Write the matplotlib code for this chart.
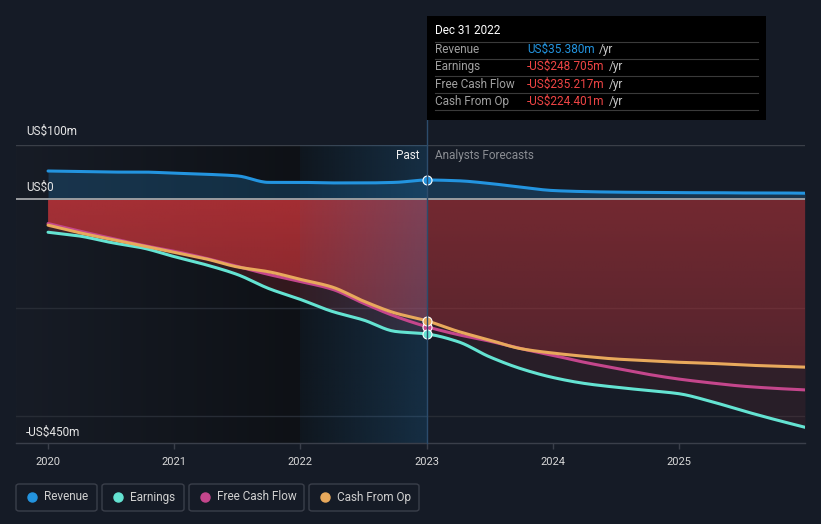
import numpy as np
import matplotlib
matplotlib.use("Agg")
import matplotlib.pyplot as plt
from matplotlib.patches import FancyBboxPatch, Rectangle
from matplotlib.lines import Line2D

plt.rcParams['font.family'] = ['Roboto', 'DejaVu Sans']

# ---------------- data ----------------
years = [2020.0, 2020.25, 2020.5, 2020.75, 2021.0, 2021.25, 2021.5, 2021.75,
         2022.0, 2022.25, 2022.5, 2022.75, 2023.0, 2023.25, 2023.5, 2023.75,
         2024.0, 2024.25, 2024.5, 2024.75, 2025.0, 2025.25, 2025.5, 2025.75, 2026.0]
revenue = [52, 51, 50, 50, 48, 46, 43, 31, 31, 30, 30, 31, 35.38, 34, 29, 22,
           16, 14, 13, 12.5, 12, 12, 11.5, 11.5, 11]
earnings = [-61, -68, -80, -90, -106, -121, -139, -165, -185, -207, -223, -244, -248.705,
            -263, -291, -313, -329, -340, -347, -353, -359, -373, -390, -406, -421]
free_cash_flow = [-45, -59, -72, -85, -96, -109, -124, -139, -152, -166, -192, -216, -235.217,
                  -250, -262, -276, -288, -301, -312, -323, -332, -339, -345, -349, -352]
cash_from_op = [-48, -62, -74, -86, -98, -110, -125, -134, -148, -162, -188, -210, -224.401,
                -244, -260, -276, -284, -290, -295, -298, -301, -303, -306, -308, -310]

series_names = ["Revenue", "Earnings", "Free Cash Flow", "Cash From Op"]
series_colors = ["#2394df", "#64e3d2", "#c4468c", "#e8a95c"]
x_ticks = [2020, 2021, 2022, 2023, 2024, 2025]
y_labels = ["US$100m", "US$0", "-US$450m"]
tooltip_date = "Dec 31 2022"
tooltip_values = ["US$35.380m", "-US$248.705m", "-US$235.217m", "-US$224.401m"]
now_year = 2023.0

# ---------------- helpers ----------------
def smooth_curve(xs, ys, per_seg=16):
    """Monotone cubic (Fritsch-Carlson) rendering of a polyline for a smooth stroke."""
    xs = np.asarray(xs, float)
    ys = np.asarray(ys, float)
    h = np.diff(xs)
    d = np.diff(ys) / h
    m = np.zeros_like(ys)
    m[0], m[-1] = d[0], d[-1]
    for i in range(1, len(xs) - 1):
        if d[i - 1] * d[i] <= 0:
            m[i] = 0
        else:
            w1 = 2 * h[i] + h[i - 1]
            w2 = h[i] + 2 * h[i - 1]
            m[i] = (w1 + w2) / (w1 / d[i - 1] + w2 / d[i])
    out_x, out_y = [], []
    for i in range(len(xs) - 1):
        t = np.linspace(0, 1, per_seg, endpoint=False)
        h00 = 2 * t**3 - 3 * t**2 + 1
        h10 = t**3 - 2 * t**2 + t
        h01 = -2 * t**3 + 3 * t**2
        h11 = t**3 - t**2
        out_x.append(xs[i] + t * h[i])
        out_y.append(h00 * ys[i] + h10 * h[i] * m[i] + h01 * ys[i + 1] + h11 * h[i] * m[i + 1])
    out_x.append([xs[-1]])
    out_y.append([ys[-1]])
    return np.concatenate(out_x), np.concatenate(out_y)

def hex2rgb(h):
    h = h.lstrip('#')
    return np.array([int(h[i:i + 2], 16) / 255 for i in (0, 2, 4)])

# ---------------- figure ----------------
W, H = 821, 524
BG = "#151b26"
fig = plt.figure(figsize=(W / 100, H / 100), dpi=100, facecolor=BG)

def fx(px):
    return px / W

def fy(py):
    return 1 - py / H

x0, x1 = 2019.746, 2026.0
ax = fig.add_axes([fx(16), fy(443), fx(805) - fx(16), fy(145) - fy(443)])
ax.set_facecolor(BG)
ax.set_xlim(x0, x1)
ax.set_ylim(-450, 100)

sx, srev = smooth_curve(years, revenue)
_, searn = smooth_curve(years, earnings)
_, sfcf = smooth_curve(years, free_cash_flow)
_, scfo = smooth_curve(years, cash_from_op)

# background: darker past region
n = 256
t = np.linspace(0, 1, n)
c_a, c_b = hex2rgb("#171c26"), hex2rgb("#0e1116")
img = np.zeros((2, n, 3))
for k in range(3):
    img[:, :, k] = c_a[k] + (c_b[k] - c_a[k]) * t
ax.imshow(img, extent=[x0, 2022.0, -450, 100], aspect='auto', zorder=0.1, interpolation='bilinear')
bg2 = np.zeros((2, n, 3))
for k in range(3):
    bg2[:, :, k] = hex2rgb("#0e1116")[k]
ax.imshow(bg2, extent=[2022.0, now_year, -450, 100], aspect='auto', zorder=0.1, interpolation='bilinear')

# grid lines
for yv, col in [(100, "#3a3f48"), (-200, "#272c35"), (-400, "#272c35")]:
    ax.axhline(yv, color=col, lw=1.0, zorder=0.5)

# revenue fill
ax.fill_between(sx, 0, srev, color="#2394df", alpha=0.22, lw=0, zorder=1)

# dim red fills
ax.fill_between(sx, 0, searn, color="#d23a40", alpha=0.10, lw=0, zorder=1)
ax.fill_between(sx, 0, sfcf, color="#d23a40", alpha=0.05, lw=0, zorder=1)
past = sx <= now_year
ax.fill_between(sx[past], 0, searn[past], color="#d23a40", alpha=0.10, lw=0, zorder=1)

# gradient red fill from 0 down to cash from op
clip_poly = ax.fill_between(sx, 0, scfo, facecolor='none', edgecolor='none', zorder=1)
clip_path = clip_poly.get_paths()[0]
mm = 256
tv = np.linspace(0, 1, mm)[:, None]

def red_grad(a_top, a_bot):
    g = np.zeros((mm, 2, 4))
    g[:, :, 0] = 210 / 255
    g[:, :, 1] = 55 / 255
    g[:, :, 2] = 60 / 255
    yvals = 100 - tv * 550
    frac = np.clip(-yvals / 450, 0, 1)
    g[:, :, 3] = (a_top + (a_bot - a_top) * frac)
    return g

im1 = ax.imshow(red_grad(0.70, 0.25), extent=[x0, now_year, -450, 100], aspect='auto',
                zorder=1.2, interpolation='bilinear')
im1.set_clip_path(clip_path, transform=ax.transData)
im2 = ax.imshow(red_grad(0.42, 0.14), extent=[now_year, x1, -450, 100], aspect='auto',
                zorder=1.2, interpolation='bilinear')
im2.set_clip_path(clip_path, transform=ax.transData)

# highlighted band (overlay) 2022 -> 2023
hl = np.zeros((2, n, 4))
hl[:, :, 0] = 40 / 255
hl[:, :, 1] = 115 / 255
hl[:, :, 2] = 175 / 255
hl[:, :, 3] = 0.06 + 0.24 * t
ax.imshow(hl, extent=[2022.0, now_year, -450, 100], aspect='auto', zorder=1.5, interpolation='bilinear')

# zero line
ax.axhline(0, color="#9a9ca0", lw=1.4, zorder=2)

# lines
for vals, col in zip([srev, searn, sfcf, scfo], series_colors):
    ax.plot(sx, vals, color=col, lw=2.2, zorder=3, solid_capstyle='round')

# markers at now
idx = years.index(now_year)
for vals, col in zip([revenue, free_cash_flow, earnings, cash_from_op],
                     [series_colors[0], series_colors[2], series_colors[1], series_colors[3]]):
    ax.plot([now_year], [vals[idx]], 'o', ms=6.5, mfc=col, mec='white', mew=0.8, zorder=4)

# axes styling
for s in ['top', 'right', 'left']:
    ax.spines[s].set_visible(False)
ax.spines['bottom'].set_color("#3a3f4a")
ax.spines['bottom'].set_linewidth(1.0)
ax.set_yticks([])
ax.set_xticks(x_ticks)
ax.set_xticklabels([str(v) for v in x_ticks])
ax.tick_params(axis='x', colors="#3a3f4a", length=4, width=1, labelcolor="#d8d8d8",
               labelsize=8, pad=6)

# y labels
for lab, py in zip(y_labels, [131, 187, 432]):
    fig.text(fx(26), fy(py), lab, color="#e6e6e6", fontsize=8.5, va='center', ha='left')

# Past / Analysts Forecasts
fig.text(fx(419), fy(156), "Past", color="#f0f0f0", fontsize=8.5, va='center', ha='right')
fig.text(fx(435), fy(156), "Analysts Forecasts", color="#8a8d93", fontsize=8.5, va='center', ha='left')

# now vertical line
fig.add_artist(Line2D([fx(427), fx(427)], [fy(443), fy(120)], color="#2c4c6c", lw=1.0, zorder=5))

# tooltip
fig.add_artist(Rectangle((fx(427), fy(120)), fx(766) - fx(427), fy(16) - fy(120),
                         facecolor="#000000", edgecolor='none', zorder=6))
fig.text(fx(435), fy(31), tooltip_date, color="#ffffff", fontsize=8.5, va='center', ha='left', zorder=7)
for py in [41.5, 58.5, 75.5, 92.5, 110]:
    fig.add_artist(Line2D([fx(435), fx(758)], [fy(py), fy(py)], color="#3a3a3a", lw=0.8, zorder=7))
val_colors = ["#2394df", "#f04545", "#f04545", "#f04545"]
fig.canvas.draw()
renderer = fig.canvas.get_renderer()
for i, (name, val, vc) in enumerate(zip(series_names, tooltip_values, val_colors)):
    py = 49.5 + i * 17.3
    fig.text(fx(435), fy(py), name, color="#a0a0a0", fontsize=8.5, va='center', ha='left', zorder=7)
    tv_ = fig.text(fx(527), fy(py), val, color=vc, fontsize=8.5, va='center', ha='left', zorder=7)
    bb = tv_.get_window_extent(renderer=renderer)
    fig.text(bb.x1 / W + fx(4), fy(py), "/yr", color="#c8c8c8", fontsize=8.5, va='center', ha='left', zorder=7)

# legend boxes
boxes = [(16, 97), (102, 184), (189, 304), (309, 419)]
for (bx0, bx1), name, col in zip(boxes, series_names, series_colors):
    fig.add_artist(FancyBboxPatch((fx(bx0), fy(511)), fx(bx1) - fx(bx0), fy(484) - fy(511),
                                  boxstyle="round,pad=0,rounding_size=0.004",
                                  facecolor='none', edgecolor="#3a3f4a", lw=1.0))
    fig.add_artist(Line2D([fx(bx0 + 16)], [fy(497)], marker='o', ms=6.5, color=col, mec=col, lw=0))
    fig.text(fx(bx0 + 28), fy(497), name, color="#d0d0d0", fontsize=8.5, va='center', ha='left')

fig.savefig("out.png", dpi=100, facecolor=BG)
